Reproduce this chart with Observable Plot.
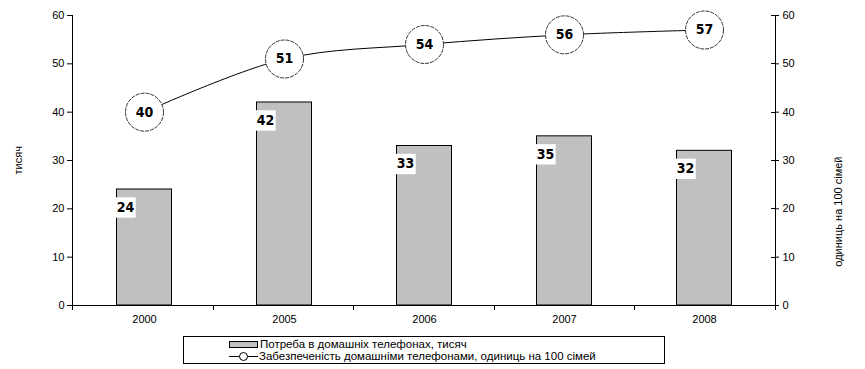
<!DOCTYPE html>
<html>
<head>
<meta charset="utf-8">
<script src="https://cdn.jsdelivr.net/npm/d3@7"></script>
<script src="https://cdn.jsdelivr.net/npm/@observablehq/plot@0.6"></script>
<style>
  html, body { margin: 0; padding: 0; background: #fff; }
  #wrap { position: relative; width: 865px; height: 369px; font-family: "Liberation Sans", Arial, sans-serif; }
  #legend { position: absolute; left: 183px; top: 336px; width: 480px; height: 26px; border: 1px solid #000; box-sizing: content-box; font-size: 11.5px; line-height: 12px; color: #000; }
  .li { position: absolute; left: 45px; display: flex; align-items: center; height: 12px; white-space: nowrap; line-height: 12px; }
  .li span { display: block; height: 12px; line-height: 12px; overflow: visible; }
  .sw { width: 27px; height: 5px; background: #C0C0C0; border: 1px solid #000; margin-right: 2px; }
  .ln { position: relative; width: 29px; height: 11px; margin-right: 1px; }
</style>
</head>
<body>
<div id="wrap">
  <div id="chart"></div>
  <div id="legend">
    <div class="li" style="top:1px"><div class="sw"></div><span id="l1"></span></div>
    <div class="li" style="top:13px"><svg class="ln" width="29" height="11"><line x1="0" y1="5.5" x2="29" y2="5.5" stroke="#000"/><circle cx="14.5" cy="5.5" r="4" fill="#fff" stroke="#000"/></svg><span id="l2"></span></div>
  </div>
</div>
<script>
const years = ["2000", "2005", "2006", "2007", "2008"];
const demand = [24, 42, 33, 35, 32];          // тисяч
const supply = [40, 51, 54, 56, 57];          // одиниць на 100 сімей
const yTicks = [0, 10, 20, 30, 40, 50, 60];
const leftTitle = "тисяч";
const rightTitle = "одиниць на 100 сімей";
const seriesNames = ["Потреба в домашніх телефонах, тисяч", "Забезпеченість домашніми телефонами, одиниць на 100 сімей"];

document.getElementById("l1").textContent = seriesNames[0];
document.getElementById("l2").textContent = seriesNames[1];

const bars = years.map((y, i) => ({year: y, value: demand[i]}));
const pts = years.map((y, i) => ({year: y, value: supply[i]}));

const labelFont = "'DejaVu Sans Condensed', 'Liberation Sans Narrow', 'Liberation Sans', Arial, sans-serif";

function frameLines(index, scales, values, dim) {
  const g = d3.create("svg:g").attr("stroke", "#000").attr("fill", "none").attr("shape-rendering", "crispEdges");
  const x0 = dim.marginLeft, x1 = dim.width - dim.marginRight;
  const yTop = dim.marginTop, yBot = dim.height - dim.marginBottom;
  g.append("line").attr("x1", x0 + 0.5).attr("x2", x0 + 0.5).attr("y1", yTop).attr("y2", yBot + 0.5);
  g.append("line").attr("x1", x1 + 0.5).attr("x2", x1 + 0.5).attr("y1", yTop).attr("y2", yBot + 0.5);
  g.append("line").attr("x1", x0).attr("x2", x1).attr("y1", yBot + 0.5).attr("y2", yBot + 0.5);
  const n = years.length, step = (x1 - x0) / n;
  for (let i = 0; i <= n; i++) {
    const xx = Math.round(x0 + i * step) + 0.5;
    g.append("line").attr("x1", xx).attr("x2", xx).attr("y1", yBot).attr("y2", yBot + 5);
  }
  for (const t of yTicks) {
    const yy = Math.round(scales.y(t)) + 0.5;
    g.append("line").attr("x1", x1 - 4).attr("x2", x1).attr("y1", yy).attr("y2", yy);
  }
  return g.node();
}

const chart = Plot.plot({
  width: 865,
  height: 332,
  marginTop: 15,
  marginBottom: 27,
  marginLeft: 72,
  marginRight: 90,
  style: {fontFamily: "'Liberation Sans', Arial, sans-serif", fontSize: "11px", color: "#000", background: "#fff"},
  x: {type: "band", domain: years, padding: 0, label: null},
  y: {domain: [0, 60], label: null},
  marks: [
    Plot.barY(bars, {x: "year", y: "value", fill: "#C0C0C0", stroke: "#000", strokeWidth: 1, insetLeft: 42.5, insetRight: 42.5}),
    frameLines,
    Plot.axisX({tickSize: 0, tickPadding: 10, fontSize: 11}),
    Plot.axisY({anchor: "left", ticks: yTicks, tickSize: 5, tickPadding: 3, fontSize: 11, label: null}),
    Plot.axisY({anchor: "right", ticks: yTicks, tickSize: 3, tickPadding: 4, fontSize: 11, label: null}),
    Plot.text([leftTitle], {frameAnchor: "left", dx: -54, dy: 14, rotate: -90, text: d => d, fontSize: 11}),
    Plot.text([rightTitle], {frameAnchor: "right", dx: 63, dy: -4, rotate: -90, text: d => d, fontSize: 11}),
    Plot.dot(bars, {x: "year", y: "value", dx: -19, dy: 18, symbol: "square", r: 11.5, fill: "#fff"}),
    Plot.text(bars, {x: "year", y: "value", dx: -19, dy: 18, text: d => String(d.value), fontWeight: "bold", fontSize: 14, fontFamily: labelFont}),
    Plot.line(pts, {x: "year", y: "value", curve: "catmull-rom", stroke: "#000", strokeWidth: 1}),
    Plot.dot(pts, {x: "year", y: "value", r: 19, fill: "#fff", stroke: "#333", strokeWidth: 1, strokeDasharray: "4 1"}),
    Plot.text(pts, {x: "year", y: "value", text: d => String(d.value), fontWeight: "bold", fontSize: 14, fontFamily: labelFont})
  ]
});
document.getElementById("chart").appendChild(chart);
</script>
</body>
</html>
